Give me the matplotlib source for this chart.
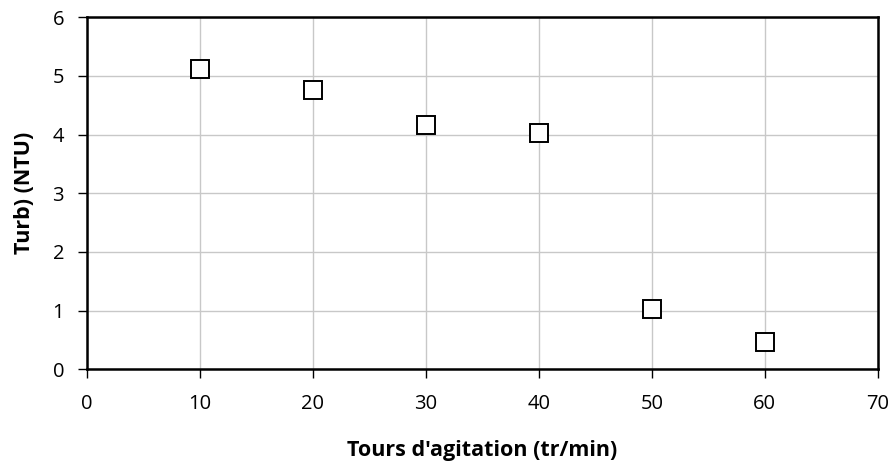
import matplotlib
matplotlib.use('Agg')
import matplotlib.pyplot as plt

plt.rcParams['font.family'] = ['Open Sans', 'DejaVu Sans']

# data
tours = [10, 20, 30, 40, 50, 60]
turb = [5.12, 4.76, 4.16, 4.03, 1.03, 0.47]

xticks = [0, 10, 20, 30, 40, 50, 60, 70]
yticks = [0, 1, 2, 3, 4, 5, 6]

fig = plt.figure(figsize=(8.93, 4.63), dpi=100)
ax = fig.add_axes([0.0974, 0.2024, 0.8856, 0.7602])

ax.plot(tours, turb, linestyle='none', marker='s', markersize=13,
        markerfacecolor='white', markeredgecolor='black', markeredgewidth=1.4,
        zorder=3)

ax.set_xlim(0, 70)
ax.set_ylim(0, 6)
ax.set_xticks(xticks)
ax.set_yticks(yticks)
ax.grid(True, color='#c8c8c8', linewidth=1.0)
ax.set_axisbelow(True)

for s in ax.spines.values():
    s.set_linewidth(1.8)
ax.tick_params(direction='out', length=6.5, width=1.0, labelsize=14.5)
ax.tick_params(axis='y', pad=10)
ax.tick_params(axis='x', pad=11)

ax.set_xlabel("Tours d'agitation (tr/min)", fontsize=15.5, fontweight='bold')
ax.set_ylabel("Turb) (NTU)", fontsize=15.5, fontweight='bold')
ax.xaxis.set_label_coords(0.5, -0.2)
ax.yaxis.set_label_coords(-0.066, 0.5)

fig.savefig('out.png', dpi=100)
